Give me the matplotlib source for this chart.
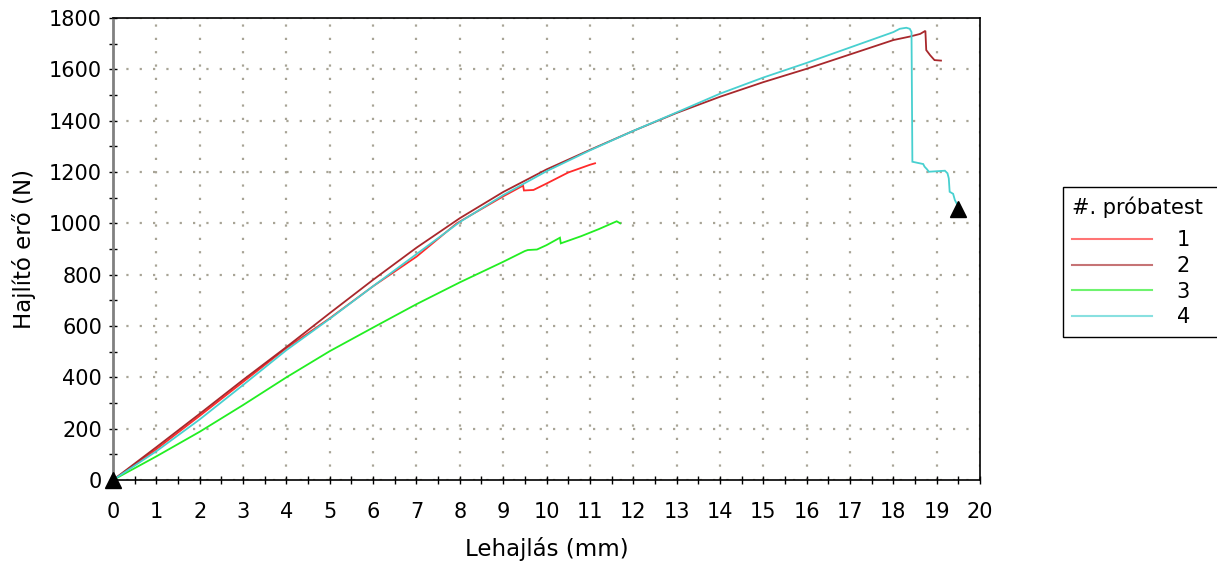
import matplotlib
matplotlib.use("Agg")
import matplotlib.pyplot as plt
from matplotlib.ticker import MultipleLocator
from matplotlib.lines import Line2D

plt.rcParams['font.family'] = ['DejaVu Sans']

# Specimen 1
x1 = [0, 1, 2, 3, 4, 5, 6, 7, 7.93, 9, 9.46, 9.48, 9.7, 10.0, 10.5, 11.0, 11.12]
y1 = [0, 120, 250, 382, 514, 630, 755, 870, 1000, 1105, 1147, 1128, 1130, 1155, 1198, 1228, 1234]

# Specimen 2
x2 = [0, 1, 2, 3, 4, 5, 6, 7, 8, 9, 10, 11, 12, 13, 14, 15, 16, 17, 18,
      18.39, 18.62, 18.74, 18.76, 18.85, 18.95, 19.1]
y2 = [0, 128, 258, 390, 518, 650, 780, 905, 1020, 1122, 1210, 1286, 1360, 1430, 1493, 1550, 1602, 1658, 1714,
      1728, 1738, 1750, 1675, 1655, 1636, 1634]

# Specimen 3
x3 = [0, 1, 2, 3, 4, 5, 6, 7, 8, 9, 9.5, 9.57, 9.78, 10.0, 10.31, 10.33, 10.8, 11.2, 11.62, 11.7]
y3 = [0, 92, 188, 292, 400, 502, 594, 685, 770, 850, 892, 896, 898, 915, 944, 922, 950, 977, 1008, 1000]

# Specimen 4
x4 = [0, 1, 2, 3, 4, 5, 6, 7, 8, 9, 10, 11, 12, 13, 14, 15, 16, 17, 18, 18.15, 18.3, 18.38,
      18.42, 18.44, 18.69, 18.72, 18.78, 18.82, 19.19, 19.25, 19.28, 19.3, 19.38, 19.42, 19.5]
y4 = [0, 112, 236, 370, 506, 628, 755, 880, 1005, 1110, 1203, 1284, 1360, 1432, 1505, 1568, 1625, 1685, 1745, 1758, 1762, 1758,
      1745, 1240, 1231, 1221, 1210, 1201, 1205, 1195, 1175, 1123, 1115, 1091, 1065]

labels = ["1", "2", "3", "4"]
colors = ["#ff2a2a", "#a8282c", "#22ee22", "#48d0d0"]

# Start / end markers
marker_x = [0, 19.5]
marker_y = [0, 1055]

fig = plt.figure(figsize=(12.17, 5.62), dpi=100)
ax = fig.add_axes([113 / 1217, 1 - 480 / 562, (980 - 113) / 1217, (480 - 18) / 562])

for xs, ys, c in zip([x1, x2, x3, x4], [y1, y2, y3, y4], colors):
    ax.plot(xs, ys, color=c, lw=1.3, solid_joinstyle='miter')

ax.plot(marker_x, marker_y, linestyle='none', marker='^', ms=11.5, color='black',
        clip_on=False, zorder=10)

ax.set_xlim(0, 20)
ax.set_ylim(0, 1800)
ax.xaxis.set_major_locator(MultipleLocator(1))
ax.xaxis.set_minor_locator(MultipleLocator(0.5))
ax.yaxis.set_major_locator(MultipleLocator(200))
ax.yaxis.set_minor_locator(MultipleLocator(100))

ax.grid(which='major', color='#a8a496', linestyle=(0, (1, 5)), linewidth=1.6)
ax.set_axisbelow(True)

ax.tick_params(axis='both', which='both', direction='inout', length=6, width=1, color='black')
ax.tick_params(axis='x', which='both', pad=13, labelsize=15)
ax.tick_params(axis='y', which='both', pad=5, labelsize=15)

for side in ['top', 'right', 'bottom']:
    ax.spines[side].set_color('black')
    ax.spines[side].set_linewidth(1.2)
ax.spines['left'].set_color('#808080')
ax.spines['left'].set_linewidth(2)

ax.set_xlabel("Lehajlás (mm)", fontsize=16.5)
ax.xaxis.set_label_coords((547 - 113) / 867, (480 - 537) / 462)
ax.set_ylabel("Hajlító erő (N)", fontsize=16.5)
ax.yaxis.set_label_coords((36 - 113) / 867, 0.5)

handles = [Line2D([], [], color=c, lw=1.5, alpha=0.65) for c in colors]
leg = ax.legend(handles, labels, title="#. próbatest", loc='upper left',
                bbox_to_anchor=(1063 / 1217, (562 - 335) / 562, 200 / 1217, 148 / 562),
                bbox_transform=fig.transFigure, mode='expand',
                borderaxespad=0, fontsize=15, title_fontsize=15, frameon=True,
                fancybox=False, edgecolor='black', framealpha=1, handlelength=3.8,
                handletextpad=1.2, labelspacing=0.27, borderpad=0.45, alignment='left')
leg.get_frame().set_linewidth(1)
# extra room between the legend title and its entries
leg._legend_box.sep = 9

fig.savefig("out.png", dpi=100)
